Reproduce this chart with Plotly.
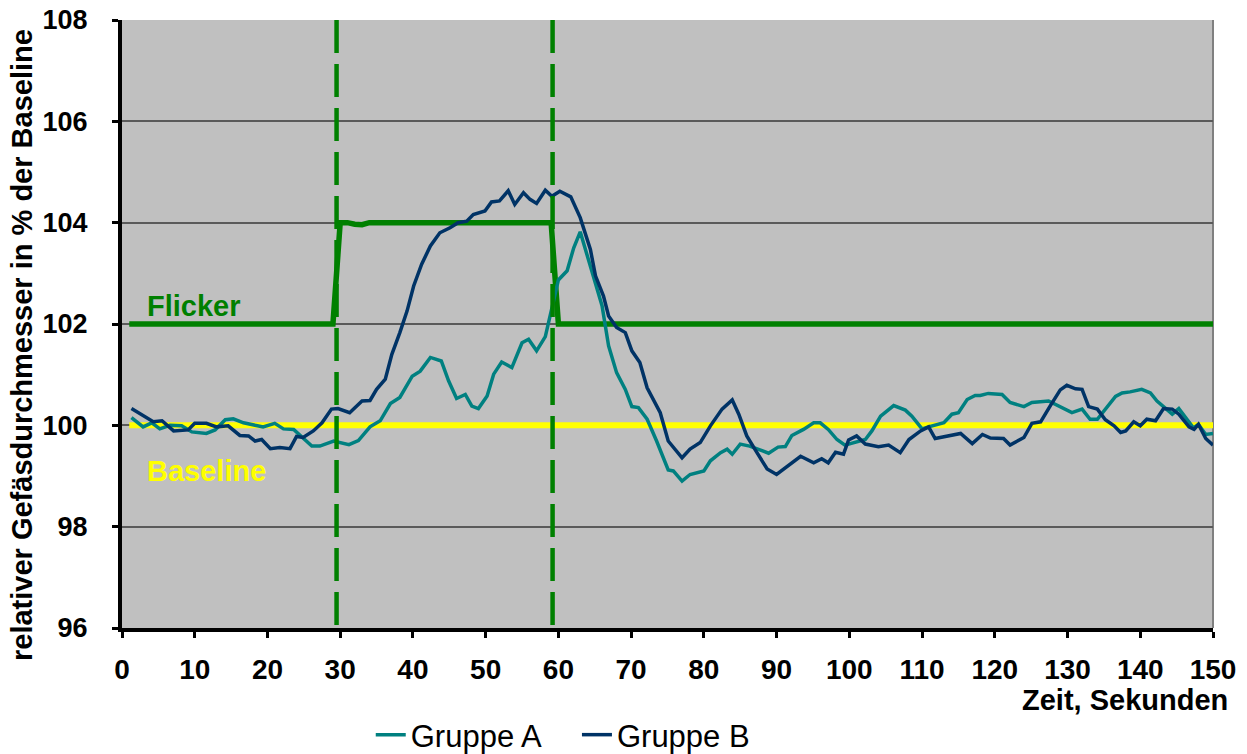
import plotly.graph_objects as go

# Zeitpunkte (Sekunden) und relative Gefäßdurchmesser (% der Baseline)
zeit_a = [1.3, 2.9, 4.1, 5.2, 6.6, 8.2, 9.6, 11.6, 12.8, 14.2, 15.3, 16.7, 18.3, 19.4,
          21.0, 22.2, 23.6, 24.7, 26.1, 27.2, 29.1, 31.2, 32.5, 34.1, 35.5, 36.9, 38.2,
          39.9, 41.0, 42.4, 43.9, 44.9, 46.0, 47.2, 48.1, 49.0, 50.2, 51.1, 52.2, 53.6,
          55.0, 55.9, 57.0, 58.2, 59.1, 60.0, 61.2, 62.1, 63.0, 63.9, 64.8, 66.0, 66.9,
          68.0, 69.2, 70.1, 71.0, 72.2, 73.5, 75.1, 75.8, 77.0, 78.1, 80.0, 80.9, 82.3,
          83.2, 83.9, 85.0, 86.3, 87.8, 88.9, 90.2, 91.2, 92.1, 93.7, 95.1, 96.0, 97.1,
          98.3, 99.4, 100.8, 102.2, 103.1, 104.3, 106.1, 107.7, 108.6, 110.0, 110.9,
          113.0, 114.1, 115.0, 116.2, 117.3, 118.0, 119.1, 121.0, 122.1, 124.0, 125.1,
          127.4, 129.0, 130.6, 132.0, 133.1, 134.1, 135.2, 136.6, 137.5, 138.6, 140.2,
          141.4, 142.3, 143.4, 144.4, 145.3, 146.5, 147.3, 148.0, 149.0, 150.0]
gruppe_a = [100.15, 99.97, 100.05, 99.93, 100.00, 99.99, 99.87, 99.84, 99.91, 100.11,
            100.13, 100.05, 100.00, 99.97, 100.04, 99.93, 99.92, 99.78, 99.59, 99.59,
            99.69, 99.62, 99.70, 99.97, 100.09, 100.43, 100.55, 100.97, 101.07, 101.34,
            101.27, 100.88, 100.53, 100.61, 100.38, 100.33, 100.58, 101.01, 101.25,
            101.14, 101.63, 101.70, 101.47, 101.75, 102.30, 102.87, 103.05, 103.50,
            103.82, 103.38, 102.91, 102.36, 101.57, 101.04, 100.71, 100.37, 100.35,
            100.12, 99.69, 99.12, 99.10, 98.90, 99.03, 99.10, 99.30, 99.46, 99.53, 99.43,
            99.63, 99.59, 99.51, 99.45, 99.57, 99.58, 99.80, 99.92, 100.05, 100.05, 99.92,
            99.72, 99.61, 99.67, 99.72, 99.89, 100.18, 100.39, 100.30, 100.18, 99.93,
            99.97, 100.05, 100.22, 100.25, 100.51, 100.59, 100.59, 100.63, 100.61,
            100.45, 100.37, 100.45, 100.48, 100.37, 100.25, 100.32, 100.12, 100.12,
            100.32, 100.57, 100.64, 100.66, 100.71, 100.64, 100.48, 100.35, 100.22,
            100.33, 100.09, 99.95, 100.02, 99.82, 99.84]

zeit_b = [1.3, 4.3, 5.5, 7.1, 9.1, 10.0, 11.6, 13.0, 14.6, 16.2, 17.4, 18.3, 19.2, 20.4,
          21.7, 23.1, 24.0, 24.9, 26.3, 27.5, 28.8, 29.7, 31.3, 33.0, 34.1, 35.0, 36.2,
          37.1, 38.2, 39.2, 40.1, 41.2, 42.4, 43.7, 45.1, 46.2, 47.4, 48.3, 49.9, 50.8,
          51.9, 53.1, 54.0, 55.2, 56.1, 57.0, 58.2, 59.1, 60.2, 61.7, 63.0, 64.4, 65.1,
          66.2, 66.9, 68.0, 69.2, 70.1, 71.2, 72.2, 74.0, 75.1, 77.0, 78.1, 79.5, 80.9,
          82.5, 83.9, 84.8, 85.9, 87.3, 88.7, 90.0, 91.6, 93.3, 95.1, 96.2, 97.1, 98.1,
          99.2, 99.9, 101.0, 102.2, 104.0, 105.4, 107.0, 108.2, 109.8, 110.9, 111.8,
          113.4, 115.3, 116.9, 118.3, 119.4, 121.2, 122.1, 124.0, 125.1, 126.3, 127.6,
          129.0, 129.9, 131.1, 132.0, 132.9, 134.1, 135.2, 136.4, 137.3, 138.0, 139.1,
          140.0, 140.9, 142.1, 143.2, 144.4, 145.3, 146.7, 147.4, 148.0, 149.0, 150.0]
gruppe_b = [100.33, 100.07, 100.09, 99.89, 99.91, 100.04, 100.04, 99.97, 99.99, 99.80,
            99.79, 99.69, 99.72, 99.54, 99.56, 99.54, 99.78, 99.76, 99.89, 100.05, 100.32,
            100.33, 100.25, 100.48, 100.49, 100.71, 100.91, 101.40, 101.83, 102.26,
            102.75, 103.18, 103.54, 103.80, 103.90, 104.00, 104.03, 104.16, 104.23,
            104.41, 104.43, 104.63, 104.36, 104.59, 104.46, 104.38, 104.64, 104.52,
            104.62, 104.51, 104.10, 103.47, 102.95, 102.55, 102.16, 101.93, 101.83,
            101.47, 101.24, 100.74, 100.25, 99.69, 99.36, 99.53, 99.66, 99.99, 100.32,
            100.50, 100.22, 99.79, 99.46, 99.14, 99.03, 99.20, 99.39, 99.26, 99.34, 99.26,
            99.47, 99.43, 99.71, 99.79, 99.63, 99.58, 99.61, 99.46, 99.72, 99.89, 99.97,
            99.74, 99.79, 99.84, 99.64, 99.82, 99.75, 99.74, 99.61, 99.76, 100.04, 100.07,
            100.38, 100.70, 100.79, 100.72, 100.71, 100.37, 100.32, 100.11, 99.99, 99.86,
            99.89, 100.07, 99.99, 100.12, 100.09, 100.33, 100.32, 100.22, 99.97, 99.92,
            100.02, 99.74, 99.61]

# Flicker-Stimulus (Referenzkurve) und Baseline
zeit_flicker = [1, 29, 30, 31, 32, 33, 34, 59, 60, 150]
flicker = [102, 102, 104, 104, 103.97, 103.96, 104, 104, 102, 102]
zeit_baseline = [1, 150]
baseline = [100, 100]

# Beginn und Ende der Flicker-Phase
flicker_beginn = 29.5
flicker_ende = 59.2

x_ticks = list(range(0, 151, 10))
y_ticks = [96, 98, 100, 102, 104, 106, 108]

FONT = "Arial, Liberation Sans, sans-serif"

fig = go.Figure()

fig.add_trace(go.Scatter(x=zeit_baseline, y=baseline, mode="lines",
                         line=dict(color="#FFFF00", width=6),
                         showlegend=False, hoverinfo="skip"))
fig.add_trace(go.Scatter(x=zeit_flicker, y=flicker, mode="lines",
                         line=dict(color="#008000", width=5.5),
                         showlegend=False, hoverinfo="skip"))
fig.add_trace(go.Scatter(x=zeit_a, y=gruppe_a, mode="lines", name="Gruppe A",
                         line=dict(color="#008080", width=3.5), legend="legend"))
fig.add_trace(go.Scatter(x=zeit_b, y=gruppe_b, mode="lines", name="Gruppe B",
                         line=dict(color="#003366", width=3.5), legend="legend2"))

# gestrichelte Markierungen für Beginn/Ende des Flickers
for xv in (flicker_beginn, flicker_ende):
    fig.add_shape(type="line", xref="x", yref="paper", x0=xv, x1=xv, y0=1, y1=0,
                  line=dict(color="#008000", width=4.5, dash="33px,11px"),
                  layer="above")

# rechter Rahmen der Zeichenfläche
fig.add_shape(type="line", xref="paper", yref="paper", x0=1, x1=1, y0=0, y1=1,
              line=dict(color="#808080", width=2), layer="below")

fig.add_annotation(x=3.2, y=102.35, xref="x", yref="y", text="<b>Flicker</b>",
                   showarrow=False, xanchor="left", yanchor="middle",
                   font=dict(family=FONT, size=29, color="#008000"))
fig.add_annotation(x=3.1, y=99.1, xref="x", yref="y", text="<b>Baseline</b>",
                   showarrow=False, xanchor="left", yanchor="middle",
                   font=dict(family=FONT, size=29, color="#FFFF00"))

# Achsentitel
fig.add_annotation(x=-0.091, y=0.465, xref="paper", yref="paper",
                   text="<b>relativer Gefäsdurchmesser in % der Baseline</b>",
                   textangle=-90, showarrow=False, xanchor="center", yanchor="middle",
                   font=dict(family=FONT, size=29, color="#000000"))
fig.add_annotation(x=1.0156, y=-0.118, xref="paper", yref="paper",
                   text="<b>Zeit, Sekunden</b>", showarrow=False,
                   xanchor="right", yanchor="middle",
                   font=dict(family=FONT, size=29, color="#000000"))

legend_style = dict(orientation="h", yanchor="middle",
                    font=dict(family=FONT, size=31, color="#000000"),
                    bgcolor="rgba(0,0,0,0)", itemwidth=30)

fig.update_layout(
    width=1247, height=754,
    margin=dict(l=122, r=34, t=20, b=126, autoexpand=False),
    paper_bgcolor="#FFFFFF",
    plot_bgcolor="#C0C0C0",
    font=dict(family=FONT, color="#000000"),
    legend=dict(x=0.228, y=-0.176, xanchor="left", **legend_style),
    legend2=dict(x=0.417, y=-0.176, xanchor="left", **legend_style),
)

fig.update_xaxes(range=[0, 150], tickvals=x_ticks, ticks="outside", ticklen=6,
                 tickwidth=3, tickcolor="#000000", showline=True, linecolor="#000000",
                 linewidth=4, showgrid=False, zeroline=False, automargin=False,
                 tickfont=dict(family=FONT, size=28, weight="bold", color="#000000"),
                 ticklabelstandoff=7)
fig.update_yaxes(range=[96, 108], tickvals=y_ticks, ticks="outside", ticklen=6,
                 tickwidth=3, tickcolor="#000000", showline=True, linecolor="#000000",
                 linewidth=4, showgrid=True, gridcolor="#5A5A5A", gridwidth=1.5,
                 zeroline=False, automargin=False,
                 tickfont=dict(family=FONT, size=27, weight="bold", color="#000000"),
                 ticklabelstandoff=19)

fig.write_html("out.html")
